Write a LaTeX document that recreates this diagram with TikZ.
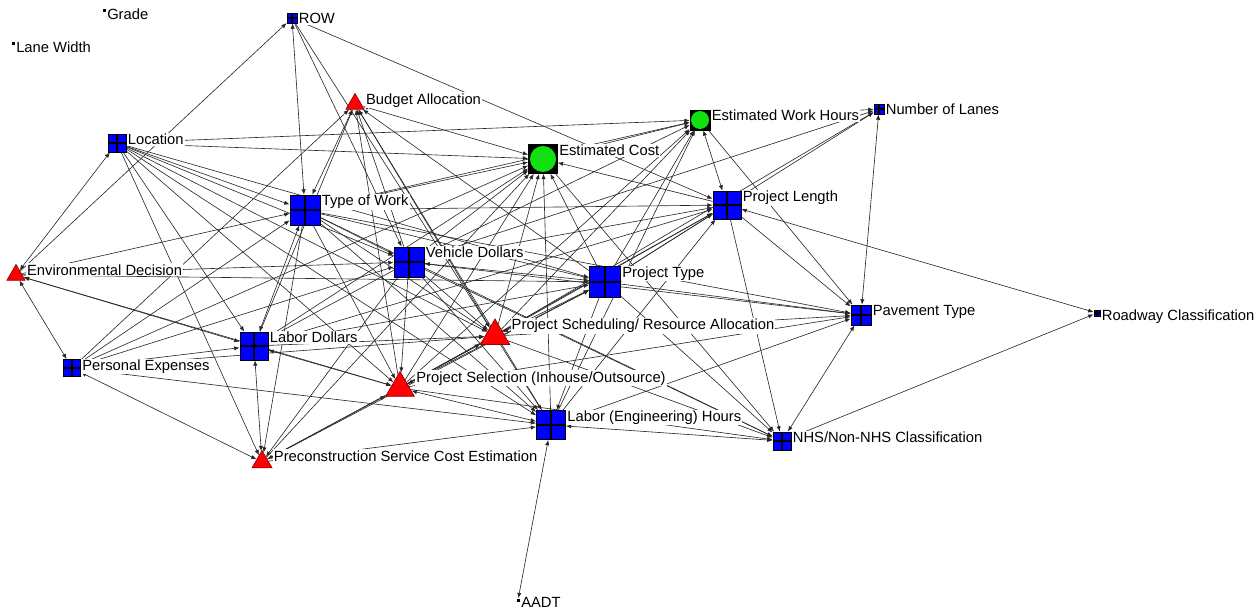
\documentclass[tikz,border=0pt]{standalone}
\usepackage{fontspec}
\setmainfont{Liberation Sans}
\usetikzlibrary{shapes.geometric,arrows.meta,positioning,backgrounds}
\definecolor{ndblue}{HTML}{0000FF}
\definecolor{ndred}{HTML}{FF0000}
\definecolor{ndgreen}{HTML}{11E011}
\tikzset{
  edge/.style={-{Latex[length=3pt,width=2.4pt]}, line width=0.35pt, draw=black!85},
  edgeb/.style={{Latex[length=3pt,width=2.4pt]}-{Latex[length=3pt,width=2.4pt]}, line width=0.35pt, draw=black!85},
  sqnode/.style={draw=black, fill=ndblue, line width=0.5pt, inner sep=0pt, minimum size=#1*0.02cm,
    path picture={\draw[line width=0.6pt] (path picture bounding box.north) -- (path picture bounding box.south)
      (path picture bounding box.west) -- (path picture bounding box.east);}},
  trinode/.style={regular polygon, regular polygon sides=3, draw=ndred!60!black, fill=ndred, line width=0.4pt,
    inner sep=0pt, minimum size=#1*0.02cm},
  cirnode/.style={draw=black, fill=black, inner sep=0pt, minimum size=#1*0.02cm,
    path picture={\fill[ndgreen] (path picture bounding box.center) circle[radius=0.45*#1*0.02cm];}},
  dotnode/.style={fill=black, inner sep=0pt, minimum size=3*0.02cm},
  lbl/.style={font=\fontsize{8.4}{10}\selectfont, inner sep=0.6pt, fill=white, anchor=north west}
}
\begin{document}
\begin{tikzpicture}[x=0.02cm, y=-0.02cm]
  \useasboundingbox (0,0) rectangle (1260,615);

  \node[dotnode] (grade) at (104,11) {};
  \node[dotnode] (lane) at (13,44) {};
  \node[dotnode] (aadt) at (518,600) {};
  \node[sqnode=10] (row) at (292,18) {};
  \node[sqnode=18] (loc) at (117,143) {};
  \node[sqnode=10] (lanes) at (879,109) {};
  \node[sqnode=30] (tow) at (305,210) {};
  \node[sqnode=28] (plen) at (727,205) {};
  \node[sqnode=30] (veh) at (409,262) {};
  \node[sqnode=31] (ptype) at (605,282) {};
  \node[sqnode=20] (pave) at (861,315) {};
  \node[sqnode=6] (road) at (1097,313) {};
  \node[sqnode=28] (labd) at (254,346) {};
  \node[sqnode=17] (pers) at (72,368) {};
  \node[sqnode=29] (leh) at (551,425) {};
  \node[sqnode=18] (nhs) at (782,441) {};
  \node[cirnode=20] (ewh) at (700,120) {};
  \node[cirnode=29] (ecost) at (543,159) {};
  \node[trinode=21] (budget) at (355,104) {};
  \node[trinode=21] (env) at (16,275) {};
  \node[trinode=34] (psched) at (495,336) {};
  \node[trinode=33] (psel) at (400,388) {};
  \node[trinode=23] (pcse) at (262,462) {};

  \begin{scope}[on background layer]
    \foreach \s/\t in {env/row, loc/ewh, loc/ecost, loc/tow, loc/veh, loc/psched, loc/labd, loc/psel,
        loc/pcse, loc/leh, loc/ptype, env/tow, env/veh, env/ptype,
        pers/budget, pers/ecost, pers/veh, pers/labd, pers/psched, pers/leh, pers/tow,
        row/plen, row/veh, row/psched,
        veh/budget, psched/budget, psel/budget, labd/budget, ptype/budget, leh/budget,
        tow/ecost, tow/ewh, tow/plen, tow/veh, tow/ptype, tow/psched, tow/psel, tow/leh, tow/nhs,
        tow/pave, tow/pcse,
        veh/ecost, veh/ewh, veh/plen, veh/psched, veh/psel, veh/leh, veh/nhs, veh/pave, veh/lanes,
        veh/labd, veh/pcse,
        labd/ecost, labd/ptype, labd/psched, labd/plen,
        psched/ecost, psched/ewh, psched/plen, psched/pave, psched/nhs, psched/leh, psched/lanes,
        psel/ecost, psel/ewh, psel/plen, psel/ptype, psel/pave, psel/nhs,
        ptype/ecost, ptype/ewh, ptype/pave, ptype/nhs, ptype/lanes, ptype/leh,
        pcse/psched, pcse/leh, pcse/ecost, pcse/ptype,
        leh/ecost, leh/ewh, leh/plen, leh/pave,
        plen/ecost, plen/pave, plen/nhs, ewh/lanes, ecost/ewh, ewh/pave, ecost/nhs, nhs/road}
      \draw[edge] (\s) -- (\t);
    \foreach \s/\t in {loc/env, env/labd, env/psel, env/pers, pers/pcse, row/tow, tow/budget,
        budget/ecost, tow/labd, veh/ptype, labd/psel, labd/pcse, psched/ptype, psched/psel,
        psel/leh, psel/pcse, ptype/plen, leh/nhs, aadt/leh, plen/ewh, plen/road, pave/lanes, nhs/pave}
      \draw[edgeb] (\s) -- (\t);
  \end{scope}

  \node[lbl] (gradel) at ([yshift=1pt]grade.north east) {Grade};
  \node[lbl] (lanel) at ([yshift=1pt]lane.north east) {Lane Width};
  \node[lbl] (aadtl) at ([yshift=1pt]aadt.north east) {AADT};
  \node[lbl] (rowl) at ([yshift=0.5pt]row.north east) {ROW};
  \node[lbl] (locl) at ([yshift=0.5pt]loc.north east) {Location};
  \node[lbl] (lanesl) at ([yshift=0.5pt]lanes.north east) {Number of Lanes};
  \node[lbl] (towl) at ([yshift=0.5pt]tow.north east) {Type of Work};
  \node[lbl] (plenl) at ([yshift=0.5pt]plen.north east) {Project Length};
  \node[lbl] (vehl) at ([yshift=0.5pt]veh.north east) {Vehicle Dollars};
  \node[lbl] (ptypel) at ([yshift=0.5pt]ptype.north east) {Project Type};
  \node[lbl] (pavel) at ([yshift=0.5pt]pave.north east) {Pavement Type};
  \node[lbl] (roadl) at ([yshift=0.5pt]road.north east) {Roadway Classification};
  \node[lbl] (labdl) at ([yshift=0.5pt]labd.north east) {Labor Dollars};
  \node[lbl] (persl) at ([yshift=0.5pt]pers.north east) {Personal Expenses};
  \node[lbl] (lehl) at ([yshift=0.5pt]leh.north east) {Labor (Engineering) Hours};
  \node[lbl] (nhsl) at ([yshift=0.5pt]nhs.north east) {NHS/Non-NHS Classification};
  \node[lbl] (ewhl) at ([yshift=0.5pt]ewh.north east) {Estimated Work Hours};
  \node[lbl] (ecostl) at ([yshift=0.5pt]ecost.north east) {Estimated Cost};
  \node[lbl] (budgetl) at ([yshift=0.5pt]budget.corner 1 -| budget.corner 3) {Budget Allocation};
  \node[lbl] (envl) at ([yshift=0.5pt]env.corner 1 -| env.corner 3) {Environmental Decision};
  \node[lbl] (pschedl) at ([yshift=0.5pt]psched.corner 1 -| psched.corner 3) {Project Scheduling/ Resource Allocation};
  \node[lbl] (psell) at ([yshift=0.5pt]psel.corner 1 -| psel.corner 3) {Project Selection (Inhouse/Outsource)};
  \node[lbl] (pcsel) at ([yshift=0.5pt]pcse.corner 1 -| pcse.corner 3) {Preconstruction Service Cost Estimation};
\end{tikzpicture}
\end{document}
